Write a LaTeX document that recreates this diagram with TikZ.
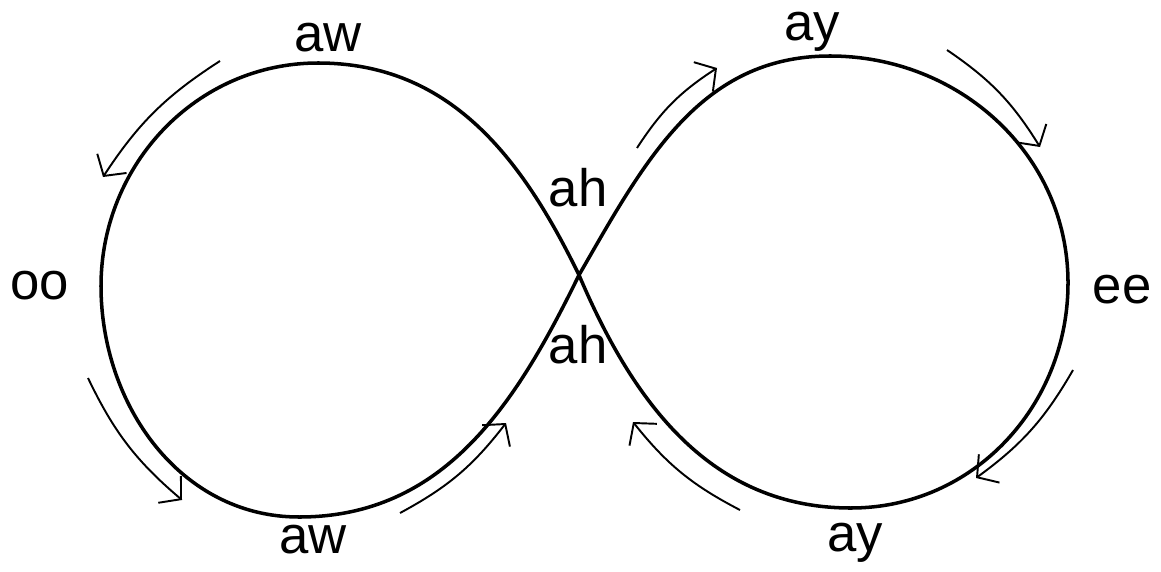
\documentclass[tikz,border=0pt]{standalone}
\usepackage{fontspec}
\setmainfont{Liberation Sans}
\usetikzlibrary{arrows.meta}
\begin{document}
\begin{tikzpicture}[
        eight/.style={line width=2pt, line join=round},
        turn/.style={line width=1.1pt, -{Straight Barb[length=3mm,width=7mm,line width=1.1pt]}},
        sound/.style={font=\fontsize{30}{30}\selectfont, inner sep=0pt}
    ]
        \useasboundingbox (0,0) rectangle (23.22,11.42);

        % Key points of the figure eight
        \coordinate (cross) at (11.58,5.92);
        \coordinate (ltop) at (6.36,10.16);
        \coordinate (lleft) at (2.02,5.70);
        \coordinate (lbot) at (5.98,1.08);
        \coordinate (rtop) at (16.6,10.30);
        \coordinate (rright) at (21.36,5.76);
        \coordinate (rbot) at (17.02,1.26);

        % Left loop
        \draw[eight] (cross) to[out=116,in=0] (ltop) to[out=180,in=90] (lleft)
            to[out=270,in=180] (lbot) to[out=0,in=244] (cross);
        % Right loop
        \draw[eight] (cross) to[out=60,in=180] (rtop) to[out=0,in=90] (rright)
            to[out=270,in=0] (rbot) to[out=180,in=293] (cross);

        % Direction arrows
        \draw[turn] (4.4,10.2) to[bend right=12] (2.06,7.88);
        \draw[turn] (1.76,3.86) to[bend right=12] (3.64,1.42);
        \draw[turn] (8.0,1.16) to[bend right=12] (10.12,2.96);
        \draw[turn] (12.74,8.46) to[bend left=12] (14.34,10.06);
        \draw[turn] (18.94,10.42) to[bend left=12] (20.8,8.48);
        \draw[turn] (21.46,4.02) to[bend left=12] (19.52,1.86);
        \draw[turn] (14.8,1.22) to[bend left=12] (12.66,2.98);

        % Sounds
        \node[sound] (awtop) at (6.56,10.66) {aw};
        \node[sound] (aytop) at (16.24,10.78) {ay};
        \node[sound] (ahtop) at (11.56,7.66) {ah};
        \node[sound] (ahbot) at (11.56,4.52) {ah};
        \node[sound] (oo) at (0.8,5.70) {oo};
        \node[sound] (ee) at (22.44,5.62) {ee};
        \node[sound] (awbot) at (6.26,0.62) {aw};
        \node[sound] (aybot) at (17.1,0.56) {ay};
    \end{tikzpicture}
\end{document}
